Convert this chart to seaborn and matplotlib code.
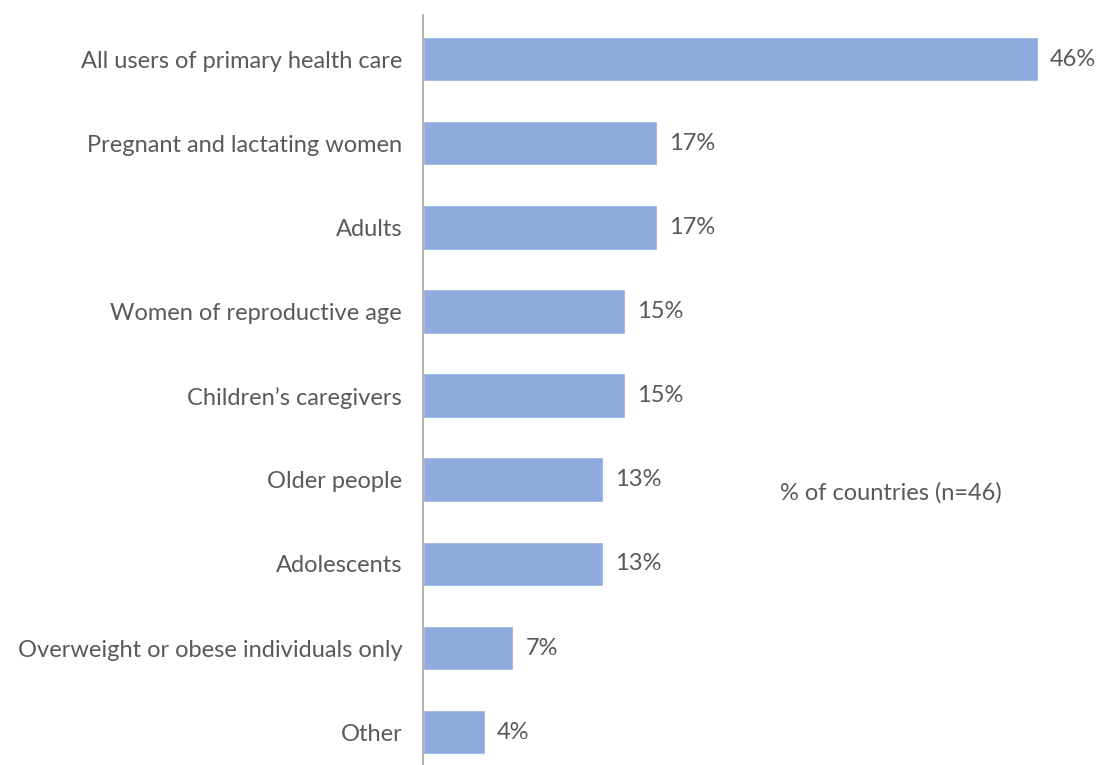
import matplotlib
matplotlib.use("Agg")
import matplotlib.pyplot as plt
import seaborn as sns
import pandas as pd

# share of countries (n=46)
groups = [
    "All users of primary health care",
    "Pregnant and lactating women",
    "Adults",
    "Women of reproductive age",
    "Children\u2019s caregivers",
    "Older people",
    "Adolescents",
    "Overweight or obese individuals only",
    "Other",
]
shares = [45.7, 17.4, 17.4, 15.0, 15.0, 13.4, 13.4, 6.7, 4.6]
share_labels = ["46%", "17%", "17%", "15%", "15%", "13%", "13%", "7%", "4%"]

df = pd.DataFrame({"group": groups, "share": shares})

sns.set_style("white")
plt.rcParams['font.family'] = ['Lato', 'DejaVu Sans']
txt = "#595959"
fs = 17

fig = plt.figure(figsize=(10.99, 7.65), dpi=100)
ax = fig.add_axes([423 / 1099, 0.0, (1096 - 423) / 1099, 1 - 15 / 765])

sns.barplot(data=df, x="share", y="group", color="#8FAADC", width=0.53,
            saturation=1, ax=ax)

for i, (v, lab) in enumerate(zip(shares, share_labels)):
    ax.text(v + 0.9, i, lab, va="center", ha="left", fontsize=fs, color=txt)

ax.set_xlim(0, 50)
ax.set_ylim(8.39, -0.523)
ax.set_xlabel("")
ax.set_ylabel("")
ax.set_xticks([])
ax.tick_params(axis="y", length=0, pad=15)
for lab in ax.get_yticklabels():
    lab.set_fontsize(fs)
    lab.set_color(txt)

sns.despine(ax=ax, top=True, right=True, bottom=True)
ax.spines["left"].set_color("#A6A6A6")
ax.spines["left"].set_linewidth(1.2)

fig.text(780 / 1099, 1 - 493 / 765, "% of countries (n=46)", fontsize=fs,
         color=txt, va="center", ha="left")

fig.savefig("out.png", dpi=100)
